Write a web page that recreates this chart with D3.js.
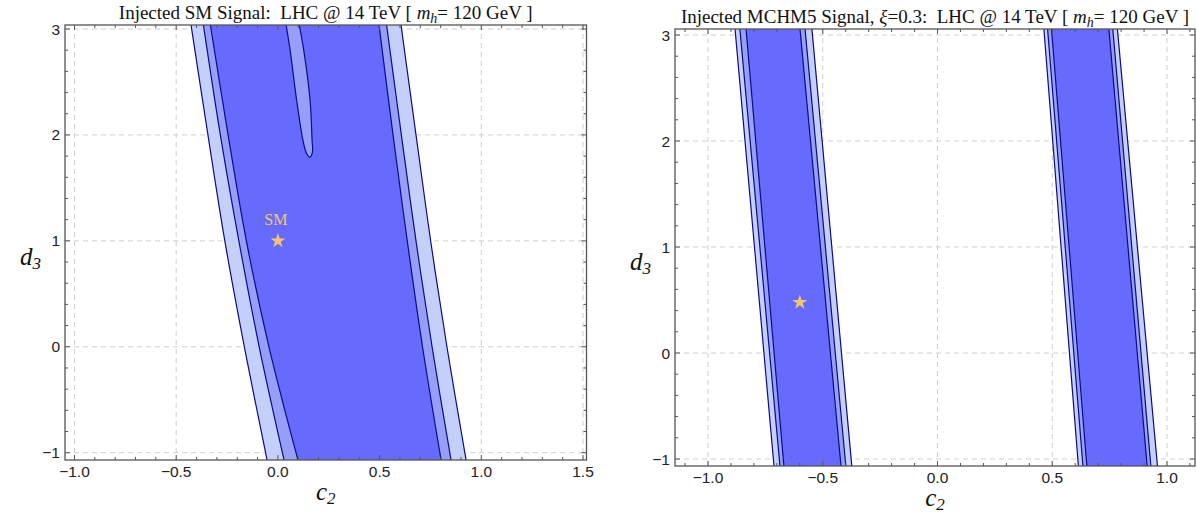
<!DOCTYPE html>
<html>
<head>
<meta charset="utf-8">
<script src="https://cdn.jsdelivr.net/npm/d3@7"></script>
<style>
  html, body { margin: 0; padding: 0; background: #fff; }
  svg { display: block; }
  text { white-space: pre; }
</style>
</head>
<body>
<svg id="chart" width="1197" height="515"></svg>
<script>
// ---------------- DATA ----------------
// Left panel: injected SM signal. Contour edges (c2 values) at given d3 levels.
const smLevels      = [3.1, 2.0, 1.0, 0.0, -1.1];
const smOuterLeft   = [-0.432, -0.344, -0.261, -0.165, -0.050];
const smMidLeft     = [-0.371, -0.283, -0.192, -0.092, 0.034];
const smInnerLeft   = [-0.337, -0.245, -0.155, -0.044, 0.103];
const smInnerRight  = [0.493, 0.566, 0.636, 0.711, 0.805];
const smMidRight    = [0.530, 0.607, 0.679, 0.758, 0.854];
const smOuterRight  = [0.601, 0.679, 0.751, 0.831, 0.928];
// island (excluded tongue) inside the SM band
const islandC2 = [0.035, 0.060, 0.092, 0.123, 0.140, 0.158, 0.170, 0.168, 0.158, 0.127, 0.099];
const islandD3 = [3.10, 2.80, 2.33, 1.95, 1.83, 1.79, 1.84, 1.95, 2.33, 2.80, 3.10];
const smPoint = {c2: 0, d3: 1, label: "SM"};

// Right panel: injected MCHM5 signal, xi = 0.3 (two straight bands)
const mchmLevels        = [3.1, -1.1];
const bandAOuterLeft    = [-0.884, -0.711];
const bandAMidLeft      = [-0.863, -0.685];
const bandAInnerLeft    = [-0.836, -0.668];
const bandAInnerRight   = [-0.601, -0.419];
const bandAMidRight     = [-0.579, -0.398];
const bandAOuterRight   = [-0.549, -0.372];
const bandBOuterLeft    = [0.462, 0.615];
const bandBMidLeft      = [0.478, 0.635];
const bandBInnerLeft    = [0.495, 0.652];
const bandBInnerRight   = [0.745, 0.915];
const bandBMidRight     = [0.762, 0.931];
const bandBOuterRight   = [0.782, 0.960];
const mchmPoint = {c2: -0.6, d3: 0.478};

// tick labels
const leftXTicks  = [-1.0, -0.5, 0.0, 0.5, 1.0, 1.5];
const rightXTicks = [-1.0, -0.5, 0.0, 0.5, 1.0];
const yTicks      = [-1, 0, 1, 2, 3];

// ---------------- STYLE ----------------
const COL_LIGHT = "#c4cffa";
const COL_MED   = "#979ef6";
const COL_DARK  = "#666bfd";
const COL_LINE  = "#0b0b85";
const COL_STAR  = "#f6c46e";

const svg = d3.select("#chart");

function zip(levels, left, right) {
  return levels.map((l, i) => ({d3: l, lo: left[i], hi: right[i]}));
}

function panel(cfg) {
  const g = svg.append("g");
  const x = d3.scaleLinear().domain(cfg.xd).range(cfg.xr);
  const y = d3.scaleLinear().domain([-1, 3]).range(cfg.yr);
  const f = cfg.frame;
  const clipId = "clip" + cfg.id;
  svg.append("clipPath").attr("id", clipId).append("rect")
    .attr("x", f.x0).attr("y", f.y0).attr("width", f.x1 - f.x0).attr("height", f.y1 - f.y0);

  // grid
  const grid = g.append("g").attr("stroke", "#cfcfcf").attr("stroke-width", 1)
    .attr("stroke-dasharray", "5,4").attr("fill", "none");
  cfg.xTicks.forEach(t => grid.append("line")
    .attr("x1", x(t)).attr("x2", x(t)).attr("y1", f.y0).attr("y2", f.y1));
  yTicks.forEach(t => grid.append("line")
    .attr("x1", f.x0).attr("x2", f.x1).attr("y1", y(t)).attr("y2", y(t)));

  const plot = g.append("g").attr("clip-path", `url(#${clipId})`);
  const area = d3.area().curve(d3.curveCatmullRom)
    .y(d => y(d.d3)).x0(d => x(d.lo)).x1(d => x(d.hi));

  cfg.regions.forEach(r => {
    plot.append("path").datum(r.data).attr("d", area)
      .attr("fill", r.fill).attr("stroke", COL_LINE).attr("stroke-width", 1.2);
  });
  if (cfg.island) {
    const line = d3.line().curve(d3.curveCatmullRom)
      .x(d => x(d[0])).y(d => y(d[1]));
    plot.append("path").datum(cfg.island).attr("d", line)
      .attr("fill", COL_MED).attr("stroke", COL_LINE).attr("stroke-width", 1.2);
  }

  // star
  const p = cfg.point;
  plot.append("path").attr("d", d3.symbol(d3.symbolStar, 70)())
    .attr("transform", `translate(${x(p.c2)},${y(p.d3)})`).attr("fill", COL_STAR);
  if (p.label) {
    plot.append("text").attr("x", x(p.c2) - 2).attr("y", y(p.d3) - 16)
      .attr("text-anchor", "middle").attr("font-family", "Liberation Serif")
      .attr("font-size", 16).attr("fill", COL_STAR).text(p.label);
  }

  // frame
  g.append("rect").attr("x", f.x0).attr("y", f.y0).attr("width", f.x1 - f.x0)
    .attr("height", f.y1 - f.y0).attr("fill", "none").attr("stroke", "#555").attr("stroke-width", 1.3);

  // ticks
  const tk = g.append("g").attr("stroke", "#555").attr("stroke-width", 1);
  const xMin = x.invert(f.x0), xMax = x.invert(f.x1);
  const xMinor = d3.range(Math.ceil(xMin * 10), Math.floor(xMax * 10) + 1).map(v => v / 10);
  xMinor.forEach(v => {
    const major = Math.abs(v * 2 - Math.round(v * 2)) < 1e-6;
    const L = major ? 5 : 3;
    tk.append("line").attr("x1", x(v)).attr("x2", x(v)).attr("y1", f.y1).attr("y2", f.y1 - L);
    tk.append("line").attr("x1", x(v)).attr("x2", x(v)).attr("y1", f.y0).attr("y2", f.y0 + L);
  });
  const yMin = y.invert(f.y1), yMax = y.invert(f.y0);
  const yMinor = d3.range(Math.ceil(yMin * 5), Math.floor(yMax * 5) + 1).map(v => v / 5);
  yMinor.forEach(v => {
    const major = Math.abs(v - Math.round(v)) < 1e-6;
    const L = major ? 5 : 3;
    tk.append("line").attr("y1", y(v)).attr("y2", y(v)).attr("x1", f.x0).attr("x2", f.x0 + L);
    tk.append("line").attr("y1", y(v)).attr("y2", y(v)).attr("x1", f.x1).attr("x2", f.x1 - L);
  });

  // tick labels
  const fmt = v => (v < 0 ? "\u2212" : "") + Math.abs(v).toFixed(1);
  cfg.xTicks.forEach(t => g.append("text").attr("x", x(t)).attr("y", f.y1 + 17)
    .attr("text-anchor", "middle").attr("font-family", "Liberation Sans").attr("font-size", 15.5)
    .attr("fill", "#222").text(fmt(t)));
  yTicks.forEach(t => g.append("text").attr("x", f.x0 - 5).attr("y", y(t) + 5.5)
    .attr("text-anchor", "end").attr("font-family", "Liberation Sans").attr("font-size", 15.5)
    .attr("fill", "#222").text((t < 0 ? "\u2212" : "") + Math.abs(t)));

  // title
  const title = g.append("text").attr("x", (f.x0 + f.x1) / 2 + cfg.titleDx).attr("y", f.y0 - 6)
    .attr("text-anchor", "middle").attr("font-family", "Liberation Serif").attr("font-size", 19)
    .attr("fill", "#111");
  cfg.title.forEach(s => {
    const ts = title.append("tspan").text(s.t);
    if (s.it) ts.attr("font-style", "italic");
    if (s.sub) ts.attr("baseline-shift", "-25%").attr("font-size", 14);
  });

  // axis labels
  const xl = g.append("text").attr("x", (f.x0 + f.x1) / 2).attr("y", f.y1 + 40)
    .attr("text-anchor", "middle").attr("font-family", "Liberation Serif").attr("font-size", 25)
    .attr("font-style", "italic").attr("fill", "#111");
  xl.append("tspan").text("c");
  xl.append("tspan").attr("font-size", 17).attr("baseline-shift", "-25%").text("2");
  const yl = g.append("text").attr("x", f.x0 - 24).attr("y", (f.y0 + f.y1) / 2 + 22)
    .attr("text-anchor", "end").attr("font-family", "Liberation Serif").attr("font-size", 25)
    .attr("font-style", "italic").attr("fill", "#111");
  yl.append("tspan").text("d");
  yl.append("tspan").attr("font-size", 17).attr("baseline-shift", "-25%").text("3");
}

panel({
  id: "L",
  xd: [-1, 1.5], xr: [74.5, 583], yr: [452.7, 29],
  frame: {x0: 65, x1: 586.5, y0: 25, y1: 460},
  xTicks: leftXTicks,
  regions: [
    {fill: COL_LIGHT, data: zip(smLevels, smOuterLeft, smOuterRight)},
    {fill: COL_MED,   data: zip(smLevels, smMidLeft, smMidRight)},
    {fill: COL_DARK,  data: zip(smLevels, smInnerLeft, smInnerRight)}
  ],
  island: islandC2.map((c, i) => [c, islandD3[i]]),
  point: smPoint,
  titleDx: 0,
  title: [{t: "Injected SM Signal:  LHC @ 14 TeV [ "}, {t: "m", it: true}, {t: "h", it: true, sub: true}, {t: "= 120 GeV ]"}]
});

panel({
  id: "R",
  xd: [-1, 1], xr: [708, 1167], yr: [459, 35],
  frame: {x0: 675, x1: 1195, y0: 29, y1: 466},
  xTicks: rightXTicks,
  regions: [
    {fill: COL_LIGHT, data: zip(mchmLevels, bandAOuterLeft, bandAOuterRight)},
    {fill: COL_MED,   data: zip(mchmLevels, bandAMidLeft, bandAMidRight)},
    {fill: COL_DARK,  data: zip(mchmLevels, bandAInnerLeft, bandAInnerRight)},
    {fill: COL_LIGHT, data: zip(mchmLevels, bandBOuterLeft, bandBOuterRight)},
    {fill: COL_MED,   data: zip(mchmLevels, bandBMidLeft, bandBMidRight)},
    {fill: COL_DARK,  data: zip(mchmLevels, bandBInnerLeft, bandBInnerRight)}
  ],
  island: null,
  point: mchmPoint,
  titleDx: 0,
  title: [{t: "Injected MCHM5 Signal, "}, {t: "\u03be", it: true}, {t: "=0.3:  LHC @ 14 TeV [ "}, {t: "m", it: true}, {t: "h", it: true, sub: true}, {t: "= 120 GeV ]"}]
});
</script>
</body>
</html>
